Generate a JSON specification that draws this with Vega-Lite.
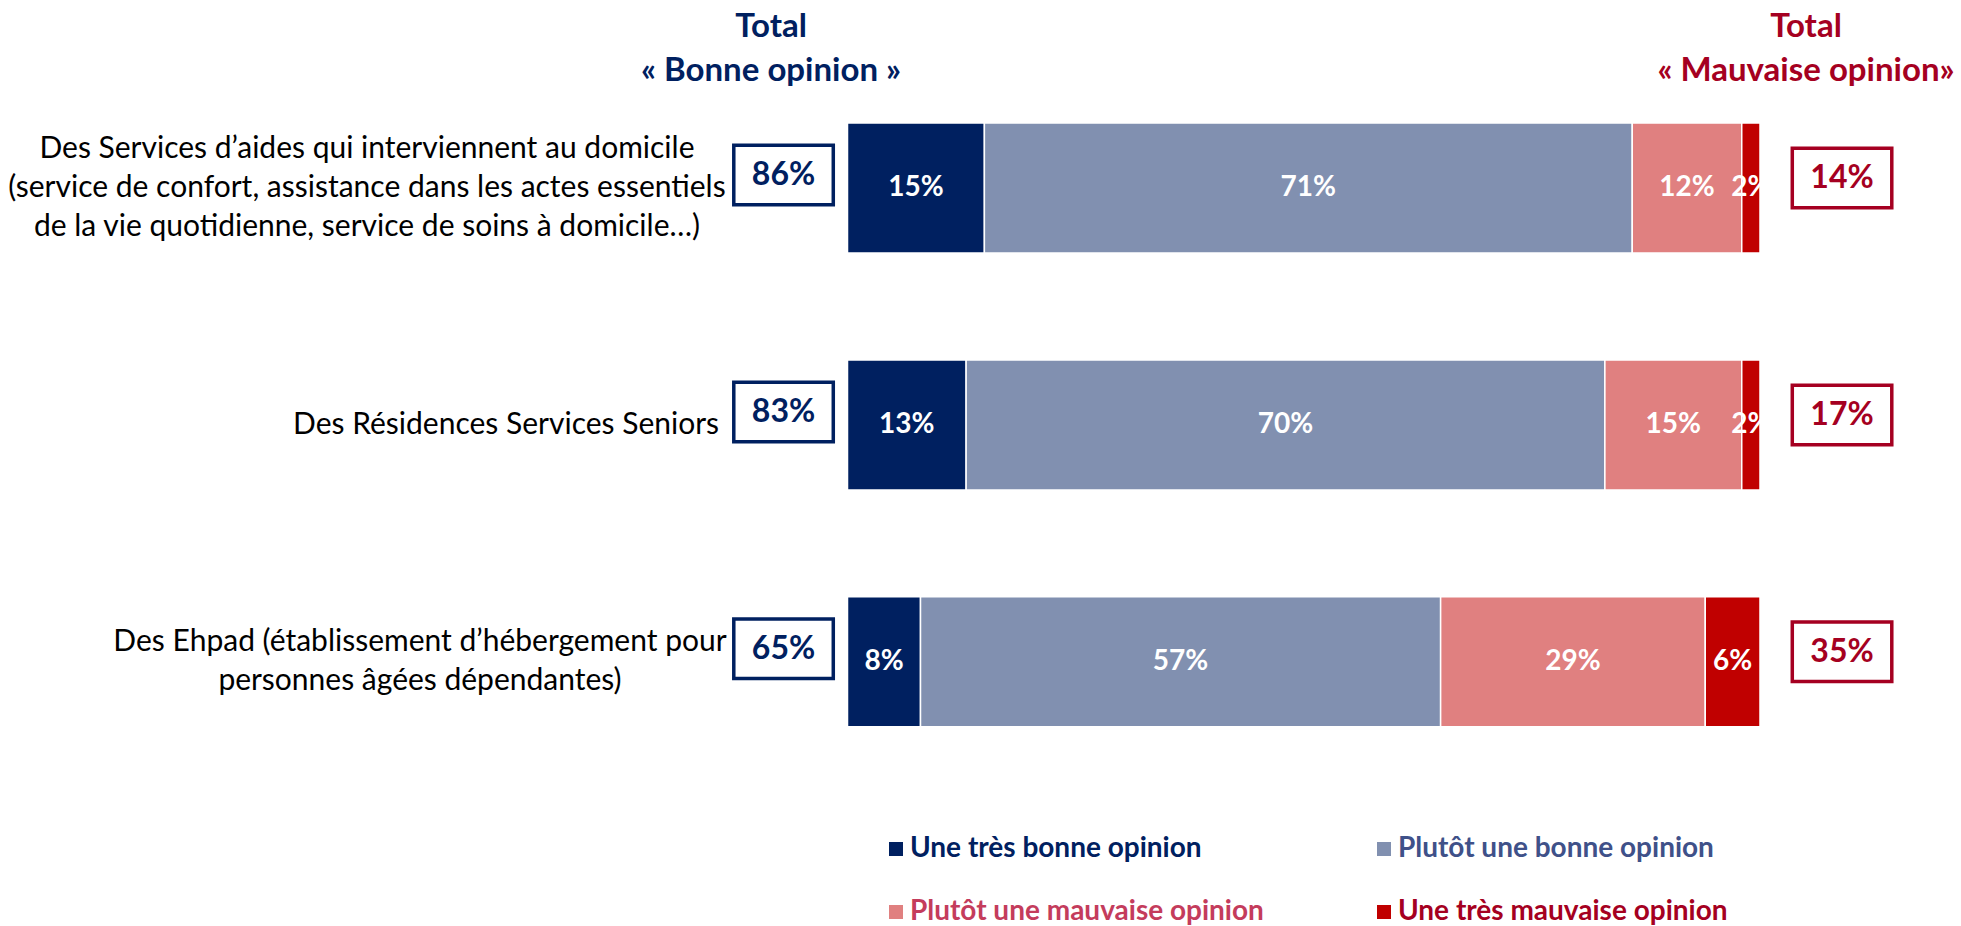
{
  "$schema": "https://vega.github.io/schema/vega-lite/v6.json",
  "width": 1961,
  "height": 926,
  "padding": 0,
  "autosize": "none",
  "background": "white",
  "config": {"view": {"stroke": null}, "font": "Lato"},
  "datasets": {
    "bars": [
      {"row": 0, "cat": "Une très bonne opinion", "ord": 1, "v": 0.15},
      {"row": 0, "cat": "Plutôt une bonne opinion", "ord": 2, "v": 0.71},
      {"row": 0, "cat": "Plutôt une mauvaise opinion", "ord": 3, "v": 0.12},
      {"row": 0, "cat": "Une très mauvaise opinion", "ord": 4, "v": 0.02},
      {"row": 1, "cat": "Une très bonne opinion", "ord": 1, "v": 0.13},
      {"row": 1, "cat": "Plutôt une bonne opinion", "ord": 2, "v": 0.70},
      {"row": 1, "cat": "Plutôt une mauvaise opinion", "ord": 3, "v": 0.15},
      {"row": 1, "cat": "Une très mauvaise opinion", "ord": 4, "v": 0.02},
      {"row": 2, "cat": "Une très bonne opinion", "ord": 1, "v": 0.08},
      {"row": 2, "cat": "Plutôt une bonne opinion", "ord": 2, "v": 0.57},
      {"row": 2, "cat": "Plutôt une mauvaise opinion", "ord": 3, "v": 0.29},
      {"row": 2, "cat": "Une très mauvaise opinion", "ord": 4, "v": 0.06}
    ],
    "rows": [
      {"row": 0, "label": "Des Services d’aides qui interviennent au domicile\n(service de confort, assistance dans les actes essentiels\nde la vie quotidienne, service de soins à domicile…)", "good": 0.86, "bad": 0.14},
      {"row": 1, "label": "Des Résidences Services Seniors", "good": 0.83, "bad": 0.17},
      {"row": 2, "label": "Des Ehpad (établissement d’hébergement pour\npersonnes âgées dépendantes)", "good": 0.65, "bad": 0.35}
    ]
  },
  "layer": [
    {
      "data": {"name": "bars"},
      "mark": {"type": "bar", "orient": "horizontal", "size": 130, "stroke": "white", "strokeWidth": 1.5},
      "encoding": {
        "x": {"field": "v", "type": "quantitative", "stack": "zero", "scale": {"domain": [-0.92877, 1.22027], "nice": false, "zero": false}, "axis": null},
        "y": {"field": "row", "type": "quantitative", "scale": {"domain": [-0.77244, 3.09395], "reverse": true, "nice": false, "zero": false}, "axis": null},
        "color": {
          "field": "cat", "type": "nominal",
          "scale": {"domain": ["Une très bonne opinion", "Plutôt une bonne opinion", "Plutôt une mauvaise opinion", "Une très mauvaise opinion"], "range": ["#002060", "#8190b0", "#e08080", "#c00000"]},
          "legend": {
            "title": null, "orient": "none", "direction": "horizontal", "legendX": 882, "legendY": 835, "columns": 2,
            "symbolType": "square", "symbolSize": 196, "symbolStrokeWidth": 0,
            "labelFont": "Lato", "labelFontSize": 28, "labelFontWeight": "bold", "labelOffset": 0, "labelLimit": 1000,
            "labelColor": {"expr": "datum.label === 'Une très bonne opinion' ? '#002060' : datum.label === 'Plutôt une bonne opinion' ? '#3f5189' : datum.label === 'Plutôt une mauvaise opinion' ? '#c43c5c' : '#a50021'"},
            "columnPadding": 106, "rowPadding": 35, "padding": 0
          }
        },
        "order": {"field": "ord"}
      }
    },
    {
      "data": {"name": "bars"},
      "mark": {"type": "text", "color": "white", "font": "Lato", "fontWeight": "bold", "fontSize": 28, "baseline": "middle", "align": "center"},
      "encoding": {
        "x": {"field": "v", "type": "quantitative", "stack": "zero", "bandPosition": 0.5},
        "y": {"field": "row", "type": "quantitative"},
        "detail": {"field": "cat"},
        "order": {"field": "ord"},
        "text": {"field": "v", "type": "quantitative", "format": ".0%"}
      }
    },
    {
      "data": {"name": "rows"},
      "mark": {"type": "point", "shape": "M-1,-0.598L1,-0.598L1,0.598L-1,0.598Z", "size": 9900, "filled": true, "fill": "white", "stroke": "#002060", "strokeWidth": 3.5, "opacity": 1, "yOffset": -13},
      "encoding": {"x": {"datum": -0.0701}, "y": {"field": "row", "type": "quantitative"}}
    },
    {
      "data": {"name": "rows"},
      "mark": {"type": "text", "color": "#002060", "font": "Lato", "fontWeight": "bold", "fontSize": 32, "baseline": "middle", "align": "center", "dy": -13},
      "encoding": {"x": {"datum": -0.0701}, "y": {"field": "row", "type": "quantitative"}, "text": {"field": "good", "type": "quantitative", "format": ".0%"}}
    },
    {
      "data": {"name": "rows"},
      "mark": {"type": "point", "shape": "M-1,-0.598L1,-0.598L1,0.598L-1,0.598Z", "size": 9900, "filled": true, "fill": "white", "stroke": "#a50021", "strokeWidth": 3.5, "opacity": 1, "yOffset": -10},
      "encoding": {"x": {"datum": 1.0899}, "y": {"field": "row", "type": "quantitative"}}
    },
    {
      "data": {"name": "rows"},
      "mark": {"type": "text", "color": "#a50021", "font": "Lato", "fontWeight": "bold", "fontSize": 32, "baseline": "middle", "align": "center", "dy": -10},
      "encoding": {"x": {"datum": 1.0899}, "y": {"field": "row", "type": "quantitative"}, "text": {"field": "bad", "type": "quantitative", "format": ".0%"}}
    },
    {
      "data": {"name": "rows"},
      "transform": [{"filter": "datum.row === 0"}],
      "mark": {"type": "text", "color": "#000000", "font": "Lato", "fontSize": 30, "lineHeight": 39, "lineBreak": "\n", "baseline": "middle", "align": "center", "dy": -39},
      "encoding": {"x": {"datum": -0.5266}, "y": {"field": "row", "type": "quantitative"}, "text": {"field": "label", "type": "nominal"}}
    },
    {
      "data": {"name": "rows"},
      "transform": [{"filter": "datum.row === 1"}],
      "mark": {"type": "text", "color": "#000000", "font": "Lato", "fontSize": 30, "lineHeight": 39, "lineBreak": "\n", "baseline": "middle", "align": "center"},
      "encoding": {"x": {"datum": -0.3742}, "y": {"field": "row", "type": "quantitative"}, "text": {"field": "label", "type": "nominal"}}
    },
    {
      "data": {"name": "rows"},
      "transform": [{"filter": "datum.row === 2"}],
      "mark": {"type": "text", "color": "#000000", "font": "Lato", "fontSize": 30, "lineHeight": 39, "lineBreak": "\n", "baseline": "middle", "align": "center", "dy": -19.5},
      "encoding": {"x": {"datum": -0.4685}, "y": {"field": "row", "type": "quantitative"}, "text": {"field": "label", "type": "nominal"}}
    },
    {
      "data": {"values": [{"t": "Total\n« Bonne opinion »"}]},
      "mark": {"type": "text", "color": "#002060", "font": "Lato", "fontWeight": "bold", "fontSize": 33, "lineHeight": 44, "lineBreak": "\n", "baseline": "middle", "align": "center", "dy": -24},
      "encoding": {"x": {"datum": -0.0838}, "y": {"datum": -0.5762}, "text": {"field": "t", "type": "nominal"}}
    },
    {
      "data": {"values": [{"t": "Total\n« Mauvaise opinion»"}]},
      "mark": {"type": "text", "color": "#a50021", "font": "Lato", "fontWeight": "bold", "fontSize": 33, "lineHeight": 44, "lineBreak": "\n", "baseline": "middle", "align": "center", "dy": -24},
      "encoding": {"x": {"datum": 1.0504}, "y": {"datum": -0.5762}, "text": {"field": "t", "type": "nominal"}}
    }
  ]
}
